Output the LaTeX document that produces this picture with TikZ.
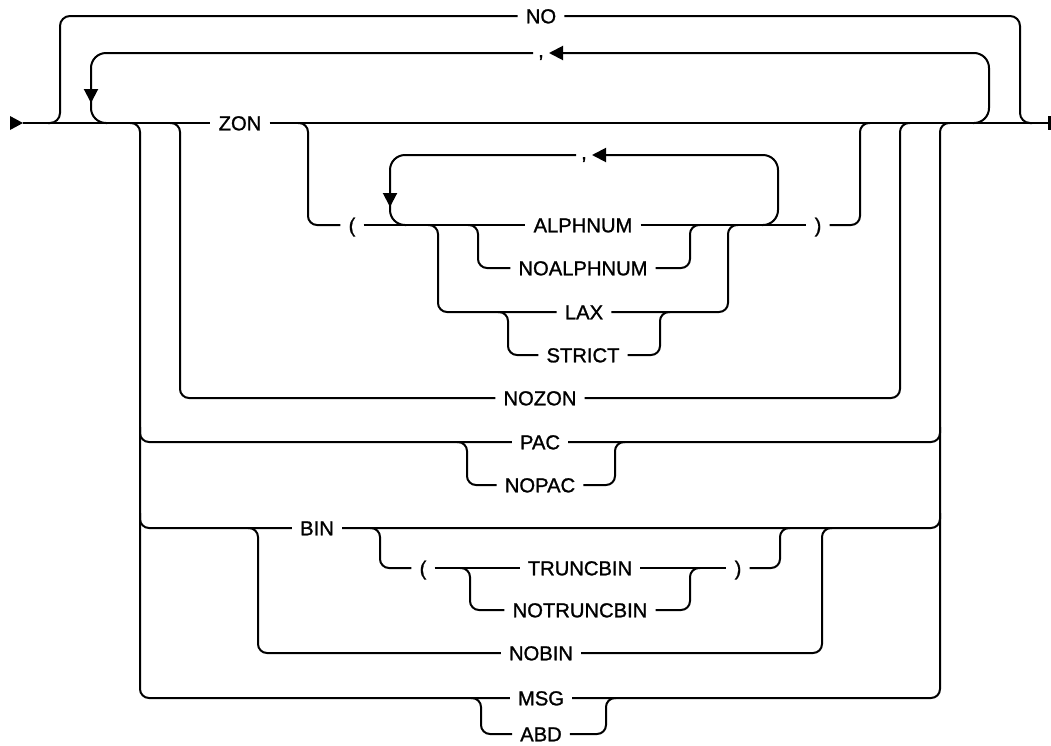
\documentclass[tikz,border=0pt]{standalone}
\usepackage{fontspec}
\setmainfont{Liberation Sans}
\newfontfamily\kwfont{Liberation Sans}[FakeBold=1.2]
\usepackage{tikz}
\usetikzlibrary{arrows.meta,calc}

\begin{document}
\begin{tikzpicture}[x=1pt,y=-1pt,
    rail/.style={line width=2pt,rounded corners=9pt},
    loopback/.style={line width=2pt,rounded corners=15pt},
    kw/.style={inner xsep=8pt,inner ysep=0pt,text height=14.6pt,text depth=0pt,font=\kwfont\fontsize{20.2}{24}\selectfont},
    sep/.style={kw,inner xsep=5pt},
    tip/.style={-{Triangle[length=14pt,width=14pt]}}]
    \useasboundingbox (0,0) rectangle (1051,745);
    % rail points
    \coordinate (st) at (23,123);   \coordinate (en) at (1048,123);
    \coordinate (noL) at (60,123);  \coordinate (noR) at (1020,123);
    \coordinate (cmL) at (91,123);  \coordinate (cmR) at (989,123);
    \coordinate (oL) at (140,123);  \coordinate (oR) at (940,123);
    \coordinate (zL) at (180,123);  \coordinate (zR) at (900,123);
    \coordinate (pL) at (308,123);  \coordinate (pR) at (860,123);
    \coordinate (icL) at (390,225); \coordinate (icR) at (778,225);
    \coordinate (aL) at (438,225);  \coordinate (aR) at (728,225);
    \coordinate (anL) at (478,225); \coordinate (anR) at (690,225);
    \coordinate (lxL) at (508,312); \coordinate (lxR) at (660,312);
    \coordinate (pcL) at (467,442); \coordinate (pcR) at (615,442);
    \coordinate (bL) at (258,528);  \coordinate (bR) at (822,528);
    \coordinate (bpL) at (380,528); \coordinate (bpR) at (780,528);
    \coordinate (tbL) at (470,568); \coordinate (tbR) at (690,568);
    \coordinate (mL) at (481,698);  \coordinate (mR) at (606,698);
    % keywords
    \node[kw] (NO) at (541,16) {NO};
    \node[sep] (cmO) at (541,50) {,};
    \node[kw] (ZON) at (240,123) {ZON};
    \node[sep] (icm) at (584,152) {,};
    \node[kw] (lpar) at (352,225) {(};
    \node[kw] (ALPHNUM) at (583,225) {ALPHNUM};
    \node[kw] (rpar) at (818,225) {)};
    \node[kw] (NOALPHNUM) at (583,268) {NOALPHNUM};
    \node[kw] (LAX) at (584,312) {LAX};
    \node[kw] (STRICT) at (583,355) {STRICT};
    \node[kw] (NOZON) at (540,398) {NOZON};
    \node[kw] (PAC) at (540,442) {PAC};
    \node[kw] (NOPAC) at (540,485) {NOPAC};
    \node[kw] (BIN) at (317,528) {BIN};
    \node[kw] (blpar) at (423,568) {(};
    \node[kw] (TRUNCBIN) at (580,568) {TRUNCBIN};
    \node[kw] (brpar) at (738,568) {)};
    \node[kw] (NOTRUNCBIN) at (580,610) {NOTRUNCBIN};
    \node[kw] (NOBIN) at (541,653) {NOBIN};
    \node[kw] (MSG) at (541,698) {MSG};
    \node[kw] (ABD) at (541,734) {ABD};
    % main line
    \fill (st) -- ++(-13,-7) -- ++(0,14) -- cycle;
    \draw[rail] (st) -- (ZON.west);
    \draw[rail] (ZON.east) -- (en);
    \fill ([yshift=7pt]en) rectangle ([xshift=3pt,yshift=-7pt]en);
    % NO bypass
    \draw[rail,rounded corners=10pt] ([xshift=-12pt]noL) -| (noL |- NO) -- (NO.west);
    \draw[rail,rounded corners=10pt] (NO.east) -| (noR) -- ([xshift=12pt]noR);
    % repeat loop
    \draw[loopback,tip] ([xshift=-16pt]cmR) -| (cmR |- 0,53) -- (cmO.east |- 0,53);
    \draw[loopback] (cmO.west |- 0,53) -| (cmL) -- ([xshift=16pt]cmL);
    \draw[rail,tip] ([yshift=34pt]cmL) -- ([yshift=20pt]cmL);
    % outer choice
    \draw[rail] ([xshift=-10pt]oL) -| (oL |- MSG) -- (MSG.west);
    \draw[rail] (MSG.east) -| (oR) -- ([xshift=10pt]oR);
    \draw[rail] ($(oL |- PAC)+(0,-15)$) |- (PAC.west);
    \draw[rail] (PAC.east) -| ($(oR |- PAC)+(0,-15)$);
    \draw[rail] ($(oL |- BIN)+(0,-15)$) |- (BIN.west);
    \draw[rail] (BIN.east) -| ($(oR |- BIN)+(0,-15)$);
    % ZON / NOZON
    \draw[rail] ([xshift=-10pt]zL) -| (zL |- NOZON) -- (NOZON.west);
    \draw[rail] (NOZON.east) -| (zR) -- ([xshift=10pt]zR);
    % ( ... )
    \draw[rail] ([xshift=-10pt]pL) -| (pL |- lpar) -- (lpar.west);
    \draw[rail] (rpar.east) -| (pR) -- ([xshift=10pt]pR);
    \draw[rail] (lpar.east) -- (ALPHNUM.west);
    \draw[rail] (ALPHNUM.east) -- (rpar.west);
    \draw[loopback,tip] ([xshift=-16pt]icR) -| (icR |- 0,155) -- (icm.east |- 0,155);
    \draw[loopback] (icm.west |- 0,155) -| (icL) -- ([xshift=16pt]icL);
    \draw[rail,tip] ([yshift=32pt]icL) -- ([yshift=18pt]icL);
    \draw[rail] ([xshift=-10pt]aL) -| (aL |- LAX) -- (LAX.west);
    \draw[rail] (LAX.east) -| (aR) -- ([xshift=10pt]aR);
    \draw[rail] ([xshift=-10pt]anL) -| (anL |- NOALPHNUM) -- (NOALPHNUM.west);
    \draw[rail] (NOALPHNUM.east) -| (anR) -- ([xshift=10pt]anR);
    \draw[rail] ([xshift=-10pt]lxL) -| (lxL |- STRICT) -- (STRICT.west);
    \draw[rail] (STRICT.east) -| (lxR) -- ([xshift=10pt]lxR);
    % PAC / NOPAC
    \draw[rail] ([xshift=-10pt]pcL) -| (pcL |- NOPAC) -- (NOPAC.west);
    \draw[rail] (NOPAC.east) -| (pcR) -- ([xshift=10pt]pcR);
    % BIN / NOBIN
    \draw[rail] ([xshift=-10pt]bL) -| (bL |- NOBIN) -- (NOBIN.west);
    \draw[rail] (NOBIN.east) -| (bR) -- ([xshift=10pt]bR);
    \draw[rail] ([xshift=-10pt]bpL) -| (bpL |- blpar) -- (blpar.west);
    \draw[rail] (brpar.east) -| (bpR) -- ([xshift=10pt]bpR);
    \draw[rail] (blpar.east) -- (TRUNCBIN.west);
    \draw[rail] (TRUNCBIN.east) -- (brpar.west);
    \draw[rail] ([xshift=-10pt]tbL) -| (tbL |- NOTRUNCBIN) -- (NOTRUNCBIN.west);
    \draw[rail] (NOTRUNCBIN.east) -| (tbR) -- ([xshift=10pt]tbR);
    % MSG / ABD
    \draw[rail] ([xshift=-10pt]mL) -| (mL |- ABD) -- (ABD.west);
    \draw[rail] (ABD.east) -| (mR) -- ([xshift=10pt]mR);
\end{tikzpicture}
\end{document}
